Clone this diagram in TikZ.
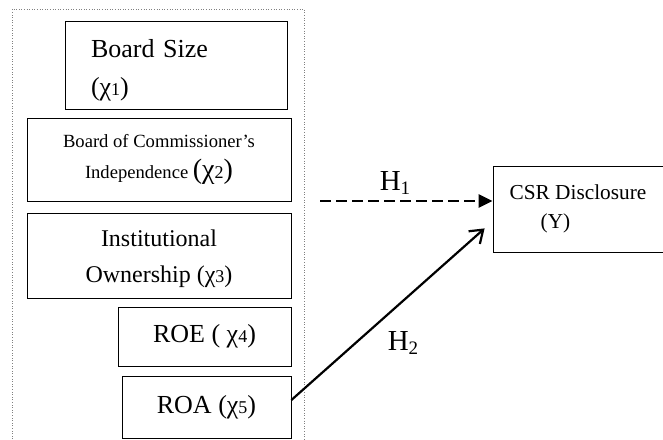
\documentclass[tikz,border=0pt]{standalone}
\usepackage{fontspec}
\setmainfont{Liberation Serif}
\usetikzlibrary{arrows.meta,positioning}
\newcommand{\varx}[1]{χ{\fontsize{18}{18}\selectfont #1}}
\newcommand{\hsub}[1]{\raisebox{-4pt}{\fontsize{19}{19}\selectfont #1}}
\begin{document}
\begin{tikzpicture}[x=1pt,y=-1pt,
  varbox/.style={draw, line width=0.8pt, inner sep=0pt, align=center},
  hlabel/.style={font=\fontsize{29}{29}\selectfont}]
\useasboundingbox (0,0) rectangle (663,439);
% frame round the independent variables
\draw[gray, dotted, line width=0.6pt] (12,439) -- (12,9) -- (304,9) -- (304,439);
% independent variables
\node[varbox, minimum width=222, minimum height=88, text width=170, inner xsep=26, align=left,
  font=\fontsize{26}{38}\selectfont] (size) at (176,65) {\rule{0pt}{28pt}Board Size\\(\varx{1})};
\node[varbox, minimum width=264, minimum height=83, font=\fontsize{18.6}{31}\selectfont] (indep) at (159,159.5)
  {Board of Commissioner's\\Independence {\fontsize{28}{31}\selectfont(\varx{2})}};
\node[varbox, minimum width=264, minimum height=85, font=\fontsize{24}{36}\selectfont] (inst) at (159,255.5)
  {\rule{0pt}{24pt}Institutional\\Ownership (\varx{3})};
\node[varbox, minimum width=173, minimum height=59, font=\fontsize{26}{26}\selectfont] (roe) at (204.5,336.5) {ROE ( \varx{4})};
\node[varbox, minimum width=169, minimum height=62, font=\fontsize{26}{26}\selectfont] (roa) at (206.5,407) {ROA (\varx{5})};
% dependent variable
\node[varbox, minimum width=170, minimum height=86, align=left, font=\fontsize{21.3}{29}\selectfont] (csr) at (578,209)
  {CSR Disclosure\\\hspace*{31pt}(Y)};
% hypotheses
\coordinate (h1start) at (320,201);
\draw[line width=2.5pt, dash pattern=on 11pt off 5pt, -{Triangle[length=14pt,width=13pt]}] (h1start) -- (csr.west |- h1start);
\node[hlabel] (h1) at (395,183) {H\hsub{1}};
\coordinate (h2end) at ([xshift=-8pt,yshift=24pt]csr.south west);
\draw[line width=2.2pt, -{Straight Barb[length=12pt,width=17pt]}] ([yshift=7pt]roa.east) -- (h2end);
\node[hlabel] (h2) at (403,343) {H\hsub{2}};
\end{tikzpicture}
\end{document}
